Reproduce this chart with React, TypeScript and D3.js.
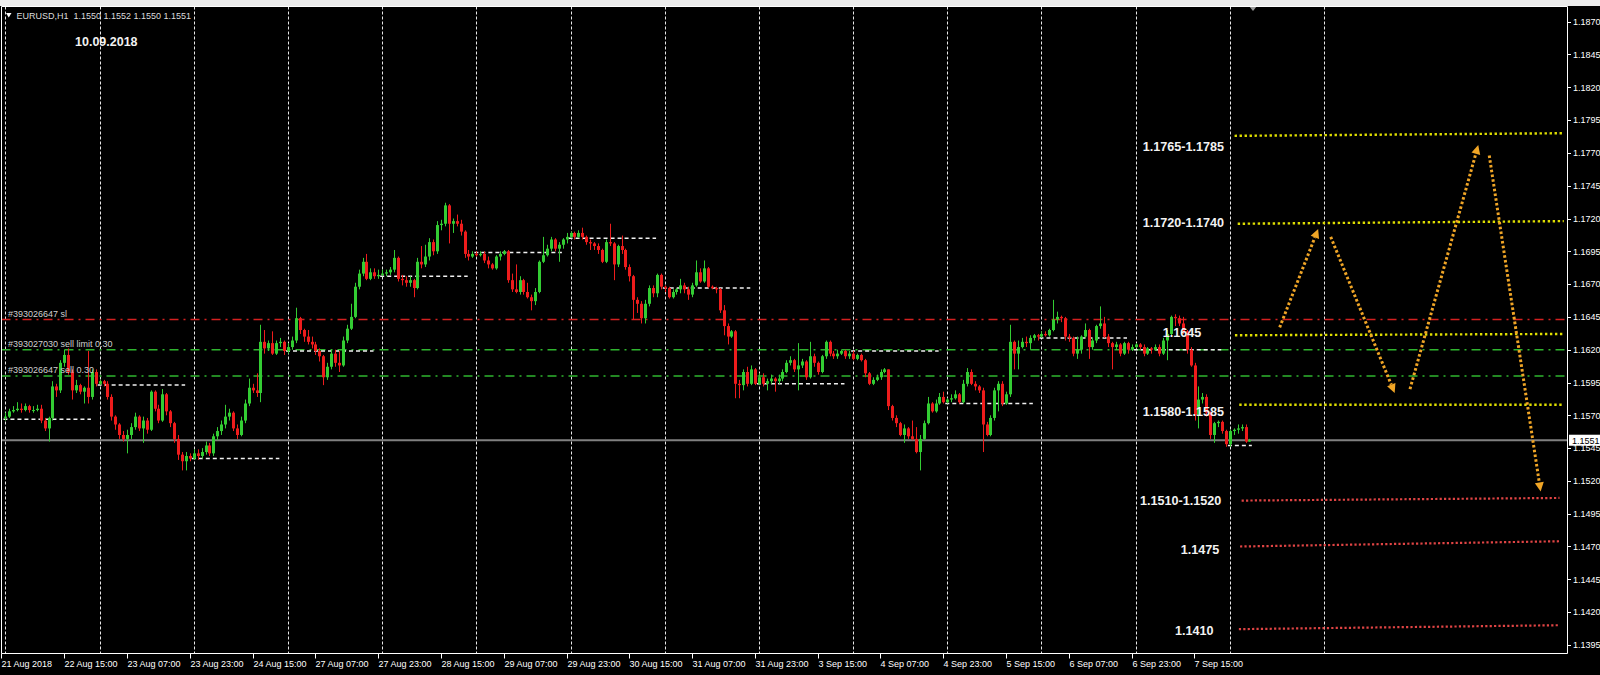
import React from 'react';
import * as d3 from 'd3';

// ---------- DATA ----------
const symbolHeader = 'EURUSD,H1  1.1550 1.1552 1.1550 1.1551';
const dateLabel = '10.09.2018';

const firstOpen = 1.1568;
const closes = [
  1.1569,1.1573,1.1574,1.1575,1.1574,1.1577,1.1574,1.1574,1.1575,1.1566,
  1.1560,1.1568,1.1592,1.1589,1.1610,1.1616,1.1603,1.1589,1.1593,1.1588,
  1.1591,1.1584,1.1603,1.1594,1.1596,1.1594,1.1584,1.1569,1.1563,1.1555,
  1.1552,1.1555,1.1561,1.1569,1.1560,1.1566,1.1559,1.1588,1.1575,1.1566,
  1.1586,1.1573,1.1564,1.1552,1.1540,1.1535,1.1539,1.1537,1.1541,1.1539,
  1.1542,1.1547,1.1541,1.1554,1.1558,1.1563,1.1569,1.1572,1.1560,1.1555,
  1.1566,1.1579,1.1591,1.1589,1.1587,1.1626,1.1621,1.1625,1.1617,1.1625,
  1.1626,1.1619,1.1622,1.1627,1.1644,1.1635,1.1630,1.1626,1.1624,1.1619,
  1.1615,1.1599,1.1607,1.1617,1.1610,1.1608,1.1627,1.1636,1.1645,1.1668,
  1.1678,1.1687,1.1674,1.1679,1.1676,1.1677,1.1678,1.1679,1.1681,1.1690,
  1.1674,1.1673,1.1671,1.1673,1.1667,1.1687,1.1685,1.1691,1.1702,1.1695,
  1.1715,1.1716,1.1730,1.1716,1.1718,1.1716,1.1710,1.1693,1.1691,1.1693,
  1.1692,1.1693,1.1688,1.1685,1.1682,1.1691,1.1693,1.1695,1.1673,1.1666,
  1.1664,1.1673,1.1664,1.1660,1.1657,1.1664,1.1687,1.1692,1.1697,1.1704,
  1.1697,1.1700,1.1704,1.1706,1.1709,1.1706,1.1709,1.1706,1.1702,1.1701,
  1.1699,1.1696,1.1687,1.1702,1.1701,1.1685,1.1699,1.1696,1.1683,1.1676,
  1.1658,1.1655,1.1644,1.1655,1.1667,1.1663,1.1677,1.1668,1.1667,1.1660,
  1.1664,1.1666,1.1669,1.1666,1.1662,1.1669,1.1679,1.1672,1.1682,1.1668,
  1.1667,1.1666,1.1650,1.1638,1.1630,1.1634,1.1594,1.1593,1.1603,1.1594,
  1.1605,1.1594,1.1599,1.1594,1.1596,1.1598,1.1596,1.1598,1.1603,1.1610,
  1.1612,1.1605,1.1608,1.1611,1.1599,1.1615,1.1610,1.1603,1.1615,1.1626,
  1.1617,1.1615,1.1617,1.1619,1.1615,1.1617,1.1613,1.1616,1.1612,1.1602,
  1.1594,1.1597,1.1599,1.1603,1.1605,1.1577,1.1568,1.1564,1.1555,1.1560,
  1.1554,1.1552,1.1542,1.1552,1.1564,1.1579,1.1573,1.1579,1.1584,1.1580,
  1.1582,1.1583,1.1586,1.1580,1.1594,1.1603,1.1594,1.1592,1.1589,1.1563,
  1.1555,1.1568,1.1589,1.1594,1.1579,1.1586,1.1626,1.1617,1.1622,1.1626,
  1.1625,1.1629,1.1631,1.1630,1.1632,1.1631,1.1635,1.1643,1.1645,1.1644,
  1.1630,1.1629,1.1617,1.1620,1.1630,1.1635,1.1622,1.1627,1.1638,1.1640,
  1.1630,1.1625,1.1622,1.1624,1.1617,1.1625,1.1620,1.1622,1.1624,1.1622,
  1.1617,1.1621,1.1620,1.1622,1.1617,1.1627,1.1632,1.1645,1.1644,1.1640,
  1.1634,1.1620,1.1608,1.1570,1.1582,1.1584,1.1572,1.1555,1.1564,1.1565,
  1.1558,1.1548,1.1558,1.1559,1.1560,1.1561,1.1550,1.1551,
];
const highs = [
  1.1572,1.1575,1.1577,1.1580,1.1579,1.1579,1.1578,1.1577,1.1578,1.1578,
  1.1568,1.1569,1.1596,1.1594,1.1612,1.1620,1.1621,1.1605,1.1597,1.1594,
  1.1592,1.1619,1.1605,1.1605,1.1597,1.1597,1.1596,1.1586,1.1570,1.1564,
  1.1558,1.1559,1.1564,1.1572,1.1570,1.1569,1.1568,1.1589,1.1589,1.1578,
  1.1590,1.1587,1.1574,1.1565,1.1555,1.1542,1.1542,1.1541,1.1544,1.1544,
  1.1545,1.1550,1.1549,1.1556,1.1561,1.1566,1.1578,1.1575,1.1573,1.1563,
  1.1569,1.1582,1.1598,1.1594,1.1602,1.1639,1.1635,1.1627,1.1634,1.1627,
  1.1629,1.1627,1.1625,1.1630,1.1652,1.1645,1.1636,1.1635,1.1630,1.1626,
  1.1621,1.1616,1.1610,1.1620,1.1620,1.1619,1.1630,1.1639,1.1655,1.1671,
  1.1681,1.1690,1.1693,1.1682,1.1682,1.1681,1.1681,1.1681,1.1683,1.1696,
  1.1691,1.1677,1.1676,1.1676,1.1674,1.1690,1.1699,1.1700,1.1705,1.1704,
  1.1718,1.1719,1.1732,1.1731,1.1720,1.1723,1.1719,1.1711,1.1696,1.1695,
  1.1695,1.1695,1.1695,1.1691,1.1686,1.1692,1.1695,1.1696,1.1696,1.1678,
  1.1685,1.1676,1.1674,1.1671,1.1662,1.1667,1.1688,1.1706,1.1700,1.1706,
  1.1705,1.1702,1.1705,1.1709,1.1710,1.1710,1.1711,1.1713,1.1707,1.1704,
  1.1702,1.1701,1.1697,1.1704,1.1716,1.1702,1.1700,1.1707,1.1697,1.1685,
  1.1677,1.1660,1.1657,1.1658,1.1669,1.1669,1.1678,1.1678,1.1669,1.1668,
  1.1666,1.1667,1.1674,1.1671,1.1668,1.1671,1.1688,1.1682,1.1688,1.1683,
  1.1669,1.1668,1.1667,1.1654,1.1640,1.1635,1.1635,1.1597,1.1605,1.1607,
  1.1608,1.1606,1.1602,1.1602,1.1598,1.1601,1.1599,1.1601,1.1605,1.1612,
  1.1615,1.1613,1.1625,1.1613,1.1612,1.1626,1.1617,1.1611,1.1616,1.1627,
  1.1627,1.1619,1.1620,1.1620,1.1620,1.1619,1.1619,1.1617,1.1617,1.1613,
  1.1603,1.1599,1.1601,1.1605,1.1606,1.1605,1.1578,1.1570,1.1565,1.1563,
  1.1561,1.1566,1.1561,1.1555,1.1566,1.1584,1.1580,1.1582,1.1587,1.1588,
  1.1583,1.1586,1.1589,1.1587,1.1597,1.1606,1.1605,1.1596,1.1593,1.1591,
  1.1565,1.1570,1.1591,1.1596,1.1596,1.1588,1.1639,1.1627,1.1627,1.1629,
  1.1630,1.1631,1.1632,1.1632,1.1634,1.1634,1.1636,1.1658,1.1649,1.1646,
  1.1645,1.1632,1.1630,1.1630,1.1631,1.1640,1.1636,1.1629,1.1639,1.1653,
  1.1645,1.1632,1.1626,1.1626,1.1625,1.1626,1.1626,1.1624,1.1625,1.1625,
  1.1624,1.1622,1.1622,1.1624,1.1624,1.1629,1.1635,1.1646,1.1647,1.1646,
  1.1645,1.1635,1.1622,1.1610,1.1592,1.1587,1.1586,1.1573,1.1565,1.1566,
  1.1566,1.1559,1.1559,1.1560,1.1563,1.1563,1.1563,1.1552,
];
const lows = [
  1.1566,1.1568,1.1572,1.1573,1.1572,1.1573,1.1572,1.1572,1.1573,1.1564,
  1.1558,1.1550,1.1566,1.1584,1.1587,1.1607,1.1601,1.1582,1.1587,1.1586,
  1.1579,1.1579,1.1582,1.1592,1.1593,1.1592,1.1582,1.1566,1.1559,1.1552,
  1.1550,1.1541,1.1552,1.1559,1.1558,1.1549,1.1556,1.1558,1.1573,1.1564,
  1.1565,1.1570,1.1561,1.1549,1.1536,1.1528,1.1528,1.1535,1.1536,1.1536,
  1.1537,1.1540,1.1539,1.1539,1.1551,1.1555,1.1560,1.1566,1.1558,1.1552,
  1.1554,1.1564,1.1577,1.1587,1.1584,1.1580,1.1617,1.1619,1.1616,1.1616,
  1.1622,1.1616,1.1617,1.1620,1.1625,1.1632,1.1626,1.1624,1.1621,1.1616,
  1.1611,1.1593,1.1597,1.1605,1.1607,1.1603,1.1607,1.1625,1.1635,1.1644,
  1.1666,1.1676,1.1673,1.1673,1.1674,1.1674,1.1676,1.1676,1.1677,1.1679,
  1.1672,1.1669,1.1668,1.1668,1.1660,1.1666,1.1682,1.1683,1.1688,1.1692,
  1.1693,1.1711,1.1714,1.1701,1.1709,1.1714,1.1707,1.1690,1.1688,1.1690,
  1.1691,1.1691,1.1686,1.1682,1.1681,1.1681,1.1688,1.1692,1.1671,1.1664,
  1.1663,1.1662,1.1662,1.1659,1.1650,1.1654,1.1663,1.1686,1.1691,1.1695,
  1.1695,1.1687,1.1697,1.1701,1.1705,1.1704,1.1705,1.1704,1.1700,1.1696,
  1.1696,1.1693,1.1686,1.1686,1.1699,1.1673,1.1683,1.1693,1.1681,1.1672,
  1.1643,1.1648,1.1640,1.1640,1.1653,1.1660,1.1660,1.1666,1.1664,1.1659,
  1.1659,1.1662,1.1663,1.1663,1.1658,1.1660,1.1668,1.1671,1.1671,1.1667,
  1.1666,1.1663,1.1648,1.1631,1.1624,1.1629,1.1583,1.1583,1.1589,1.1592,
  1.1593,1.1593,1.1593,1.1592,1.1589,1.1594,1.1588,1.1594,1.1596,1.1602,
  1.1608,1.1603,1.1589,1.1606,1.1597,1.1598,1.1607,1.1601,1.1602,1.1613,
  1.1615,1.1613,1.1613,1.1616,1.1613,1.1613,1.1612,1.1612,1.1611,1.1599,
  1.1593,1.1593,1.1596,1.1597,1.1602,1.1574,1.1566,1.1561,1.1554,1.1549,
  1.1552,1.1551,1.1541,1.1528,1.1551,1.1563,1.1572,1.1572,1.1578,1.1579,
  1.1579,1.1580,1.1582,1.1579,1.1579,1.1592,1.1593,1.1589,1.1587,1.1542,
  1.1554,1.1554,1.1566,1.1573,1.1577,1.1578,1.1584,1.1605,1.1605,1.1621,
  1.1622,1.1620,1.1627,1.1627,1.1629,1.1630,1.1630,1.1634,1.1640,1.1641,
  1.1627,1.1626,1.1615,1.1613,1.1617,1.1629,1.1613,1.1620,1.1625,1.1636,
  1.1629,1.1622,1.1605,1.1620,1.1615,1.1616,1.1617,1.1619,1.1621,1.1620,
  1.1615,1.1616,1.1617,1.1619,1.1615,1.1616,1.1612,1.1630,1.1638,1.1638,
  1.1632,1.1617,1.1607,1.1566,1.1560,1.1579,1.1569,1.1552,1.1549,1.1561,
  1.1556,1.1546,1.1546,1.1555,1.1556,1.1558,1.1549,1.1550,
];

// daily open levels (one per day, each day = 24 bars)
const dayOpens = [1.1567,1.1593,1.1537,1.1619,1.1676,1.1694,1.1705,1.1667,1.1594,1.1619,1.1579,1.1629,1.1620,1.1547];
const barsPerDay = 24;

const priceTicks = [1.1395,1.1420,1.1445,1.1470,1.1495,1.1520,1.1545,1.1570,1.1595,1.1620,1.1645,1.1670,1.1695,1.1720,1.1745,1.1770,1.1795,1.1820,1.1845,1.1870];
const timeLabels = ['21 Aug 2018','22 Aug 15:00','23 Aug 07:00','23 Aug 23:00','24 Aug 15:00','27 Aug 07:00','27 Aug 23:00','28 Aug 15:00','29 Aug 07:00','29 Aug 23:00','30 Aug 15:00','31 Aug 07:00','31 Aug 23:00','3 Sep 15:00','4 Sep 07:00','4 Sep 23:00','5 Sep 15:00','6 Sep 07:00','6 Sep 23:00','7 Sep 15:00'];
const barsPerTimeLabel = 16;
const gridCount = 15;
const currentPrice = 1.1551;

const orderLines = [
  { label: '#393026647 sl', price: 1.1643, color: '#d42020' },
  { label: '#393027030 sell limit 0.30', price: 1.1620, color: '#2fb52f' },
  { label: '#393026647 sell 0.30', price: 1.1600, color: '#2fb52f' },
];

// analyst level lines: [bar1, price1, bar2, price2]
const yellowLevels = [
  [313.2, 1.1783, 397.1, 1.1785],
  [314.0, 1.1716, 397.1, 1.1718],
  [313.3, 1.1631, 397.1, 1.1632],
  [314.4, 1.1578, 397.1, 1.1578],
];
const redLevels = [
  [315.0, 1.1505, 396.0, 1.1507],
  [314.6, 1.1470, 396.0, 1.1474],
  [314.3, 1.1407, 396.0, 1.1410],
];
const arrows = [
  [324.7, 1.1637, 334.5, 1.1712],
  [337.7, 1.1706, 354.0, 1.1587],
  [357.9, 1.1590, 375.3, 1.1776],
  [378.1, 1.1768, 391.2, 1.1512],
];
const levelLabels = [
  { text: '1.1765-1.1785', bar: 289.8, price: 1.1775 },
  { text: '1.1720-1.1740', bar: 289.8, price: 1.1717 },
  { text: '1.1645', bar: 294.9, price: 1.1633 },
  { text: '1.1580-1.1585', bar: 289.8, price: 1.1573 },
  { text: '1.1510-1.1520', bar: 289.1, price: 1.1505 },
  { text: '1.1475', bar: 299.5, price: 1.1468 },
  { text: '1.1410', bar: 298.0, price: 1.1406 },
];

// ---------- LAYOUT ----------
const W = 1600, H = 675;
const plotL = 1.5, plotR = 1567.5, plotT = 6.5, plotB = 653.5;
const FONT = '"Liberation Sans", Arial, sans-serif';

export default function App() {
  const x = d3.scaleLinear().domain([0, 24]).range([5.4, 5.4 + 24 * 3.9245]);
  const y = d3.scaleLinear().domain([1.1395, 1.1870]).range([644.9, 21.7]);

  const bars = closes.map((c, i) => ({
    i, o: i === 0 ? firstOpen : closes[i - 1], c, h: highs[i], l: lows[i],
  }));
  const lastBar = closes.length - 1;

  const GREEN = '#33cc33', RED = '#ee1c1c';

  return (
    <svg width={W} height={H} style={{ position: 'absolute', left: 0, top: 0, display: 'block', background: '#000' }}>
      <defs>
        <clipPath id="plot">
          <rect x={plotL} y={plotT} width={plotR - plotL} height={plotB - plotT} />
        </clipPath>
      </defs>
      <rect x={0} y={0} width={W} height={H} fill="#000" />
      <rect x={0} y={0} width={W} height={6} fill="#ececec" />
      <path d={`M1249,6 L1257,6 L1253,11 Z`} fill="#9a9a9a" />

      <g clipPath="url(#plot)">
        {/* vertical grid */}
        {d3.range(gridCount).map(k => (
          <line key={'g' + k} x1={Math.round(x(k * barsPerDay)) + 0.5} x2={Math.round(x(k * barsPerDay)) + 0.5}
            y1={plotT} y2={plotB} stroke="#e8e8e8" strokeWidth={1} strokeDasharray="3,2" />
        ))}

        {/* order lines */}
        {orderLines.map((o, k) => (
          <line key={'o' + k} x1={plotL} x2={plotR} y1={y(o.price)} y2={y(o.price)}
            stroke={o.color} strokeWidth={1.4} strokeDasharray="9,5,2,5" />
        ))}

        {/* current price line */}
        <line x1={plotL} x2={plotR} y1={y(currentPrice)} y2={y(currentPrice)} stroke="#808080" strokeWidth={2} />

        {/* day open segments */}
        {dayOpens.map((p, k) => {
          const d = k * barsPerDay;
          const end = Math.min(d + 21.8, lastBar + 0.6);
          return (
            <line key={'d' + k} x1={x(d - 0.5)} x2={x(end)} y1={y(p)} y2={y(p)}
              stroke="#f0f0f0" strokeWidth={1.5} strokeDasharray="4,3" />
          );
        })}

        {/* candles */}
        {bars.map(b => {
          const cx = Math.round(x(b.i));
          const up = b.c >= b.o;
          const col = up ? GREEN : RED;
          const top = y(Math.max(b.o, b.c));
          const bot = y(Math.min(b.o, b.c));
          return (
            <g key={'c' + b.i}>
              <line x1={cx + 0.5} x2={cx + 0.5} y1={y(b.h)} y2={y(b.l)} stroke={col} strokeWidth={1} />
              <rect x={cx - 1} y={top} width={3} height={Math.max(1, bot - top)} fill={col} />
            </g>
          );
        })}

        {/* order labels */}
        {orderLines.map((o, k) => (
          <text key={'ol' + k} x={8} y={y(o.price) - 3} fill="#cfcfcf" fontSize={9} fontFamily={FONT}>{o.label}</text>
        ))}

        {/* yellow levels */}
        {yellowLevels.map((l, k) => (
          <line key={'yl' + k} x1={x(l[0])} y1={y(l[1])} x2={x(l[2])} y2={y(l[3])}
            stroke="#dede00" strokeWidth={2.4} strokeDasharray="2.4,2.6" />
        ))}
        {redLevels.map((l, k) => (
          <line key={'rl' + k} x1={x(l[0])} y1={y(l[1])} x2={x(l[2])} y2={y(l[3])}
            stroke="#e04444" strokeWidth={2.2} strokeDasharray="2.2,2.2" />
        ))}

        {/* arrows */}
        {arrows.map((a, k) => {
          const x1 = x(a[0]), y1 = y(a[1]), x2 = x(a[2]), y2 = y(a[3]);
          const len = Math.hypot(x2 - x1, y2 - y1);
          const ux = (x2 - x1) / len, uy = (y2 - y1) / len;
          const bx = x2 - ux * 9, by = y2 - uy * 9;
          const nx = -uy, ny = ux;
          return (
            <g key={'a' + k}>
              <line x1={x1} y1={y1} x2={bx} y2={by} stroke="#f0a526" strokeWidth={3} strokeDasharray="2.6,2.2" />
              <path d={`M${x2},${y2} L${bx + nx * 4.5},${by + ny * 4.5} L${bx - nx * 4.5},${by - ny * 4.5} Z`} fill="#f0a526" />
            </g>
          );
        })}

        {/* level labels */}
        {levelLabels.map((t, k) => (
          <text key={'t' + k} x={x(t.bar)} y={y(t.price) + 4.5} fill="#f2f2f2" fontSize={12.6}
            fontWeight="bold" fontFamily={FONT}>{t.text}</text>
        ))}
      </g>

      {/* frame */}
      <line x1={plotL} x2={plotR} y1={plotT} y2={plotT} stroke="#ffffff" strokeWidth={1} />
      <line x1={plotL} x2={plotL} y1={plotT} y2={plotB} stroke="#ffffff" strokeWidth={1} />
      <line x1={plotR} x2={plotR} y1={plotT} y2={plotB} stroke="#ffffff" strokeWidth={1} />
      <line x1={plotL} x2={plotR} y1={plotB} y2={plotB} stroke="#ffffff" strokeWidth={1} />

      {/* price axis */}
      {priceTicks.map(p => (
        <g key={'p' + p}>
          <line x1={plotR} x2={plotR + 3.5} y1={Math.round(y(p)) + 0.5} y2={Math.round(y(p)) + 0.5} stroke="#ffffff" />
          <text x={1573} y={y(p) + 3.3} fill="#ffffff" fontSize={9} fontFamily={FONT}>{p.toFixed(4)}</text>
        </g>
      ))}
      <rect x={1569} y={y(currentPrice) - 5.5} width={31} height={11} fill="#ffffff" />
      <text x={1572} y={y(currentPrice) + 3.3} fill="#000000" fontSize={9} fontFamily={FONT}>{currentPrice.toFixed(4)}</text>

      {/* time axis */}
      {timeLabels.map((t, k) => {
        const tx = Math.round(x(k * barsPerTimeLabel)) - 3.5;
        return (
          <g key={'tl' + k}>
            <line x1={tx} x2={tx} y1={plotB} y2={plotB + 5} stroke="#ffffff" />
            <text x={tx} y={667} fill="#ffffff" fontSize={9} fontFamily={FONT}>{t}</text>
          </g>
        );
      })}

      {/* header */}
      <path d="M6,13 L11.5,13 L8.75,17.5 Z" fill="#ffffff" />
      <text x={16.5} y={19} fill="#dcdcdc" fontSize={9} fontFamily={FONT} style={{ whiteSpace: 'pre' }}>{symbolHeader}</text>
      <text x={75} y={46} fill="#f2f2f2" fontSize={12.5} fontWeight="bold" fontFamily={FONT}>{dateLabel}</text>
    </svg>
  );
}
